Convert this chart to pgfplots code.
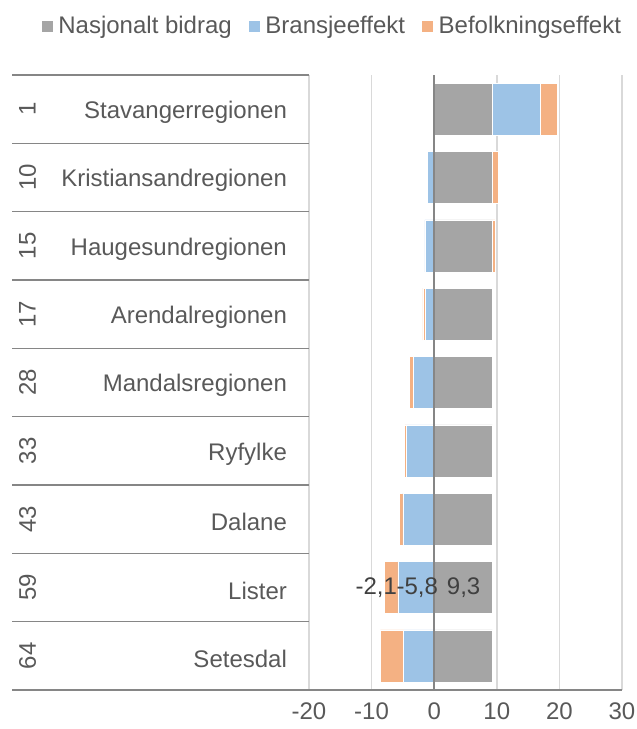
\documentclass[border=0pt]{standalone}
\usepackage{fontspec}
\setmainfont{Liberation Sans}
\usepackage{pgfplots}
\pgfplotsset{compat=1.18}
\definecolor{gbar}{HTML}{A5A5A5}
\definecolor{bbar}{HTML}{9DC3E6}
\definecolor{obar}{HTML}{F4B183}
\definecolor{gridc}{HTML}{D9D9D9}
\definecolor{axc}{HTML}{868686}
\definecolor{txt}{HTML}{595959}
\definecolor{lbl}{HTML}{404040}
\pgfplotsset{common/.style={
  scale only axis, width=156.5pt, height=307.5pt,
  xmin=-20, xmax=30, ymin=-0.5, ymax=8.5, y dir=reverse,
  xbar stacked, bar width=0.76,
}}
\begin{document}
\begin{tikzpicture}[font=\fontsize{12}{14}\selectfont, text=txt]
\useasboundingbox (-154.5pt,-19.5pt) rectangle (164pt,345pt);
% positive parts
\begin{axis}[common,
  axis x line*=bottom, axis y line*=left,
  x axis line style={axc, line width=0.8pt, -},
  y axis line style={draw=none},
  xtick={-20,-10,0,10,20,30}, xticklabels={-20,-10,0,10,20,30},
  ytick={0,1,2,3,4,5,6,7,8},
  yticklabels={Stavangerregionen,Kristiansandregionen,Haugesundregionen,Arendalregionen,Mandalsregionen,Ryfylke,Dalane,Lister,Setesdal},
  major tick length=0pt,
  xmajorgrids, grid style={gridc, line width=0.8pt},
  xticklabel style={yshift=-2.7pt, text=txt},
  yticklabel style={anchor=east, inner sep=0pt, xshift=-10.85pt, yshift=-1.5pt, text=txt},
  legend style={at={(0.078,1.0797)}, anchor=center, draw=none, fill=none,
    legend columns=3, text=txt, font=\fontsize{12}{14}\selectfont,
    nodes={inner sep=2.5pt},
    /tikz/every even column/.append style={column sep=5.5pt}},
  legend image code/.code={\fill[#1] (0pt,-3pt) rectangle (6pt,3pt);},
]
\addplot[fill=gbar, draw=white, line width=0.3pt] coordinates {
(9.3,0) (9.3,1) (9.3,2) (9.3,3) (9.3,4) (9.3,5) (9.3,6) (9.3,7) (9.3,8)};
\addplot[fill=bbar, draw=white, line width=0.3pt] coordinates {
(7.7,0) (0,1) (0,2) (0,3) (0,4) (0,5) (0,6) (0,7) (0,8)};
\addplot[fill=obar, draw=white, line width=0.3pt] coordinates {
(2.6,0) (0.9,1) (0.4,2) (0,3) (0,4) (0,5) (0,6) (0,7) (0,8)};
\legend{Nasjonalt bidrag,Bransjeeffekt,Befolkningseffekt}
\end{axis}
% negative parts
\begin{axis}[common, hide axis]
\addplot[fill=bbar, draw=white, line width=0.3pt] coordinates {
(0,0) (-1.1,1) (-1.5,2) (-1.4,3) (-3.3,4) (-4.4,5) (-5.0,6) (-5.8,7) (-4.9,8)};
\addplot[fill=obar, draw=white, line width=0.3pt] coordinates {
(0,0) (0,1) (0,2) (-0.4,3) (-0.7,4) (-0.3,5) (-0.6,6) (-2.1,7) (-3.7,8)};
\end{axis}
% overlay: zero line, category table, data labels
\begin{axis}[scale only axis, width=156.5pt, height=307.5pt,
  xmin=-20, xmax=30, ymin=-0.5, ymax=8.5, y dir=reverse, hide axis, clip=false]
\draw[axc, line width=0.9pt] (axis cs:0,-0.5) -- (axis cs:0,8.5);
\pgfplotsinvokeforeach{-0.5,0.5,1.5,2.5,3.5,4.5,5.5,6.5,7.5,8.5}{
  \draw[axc, line width=0.8pt] (axis cs:-20,#1) -- ++(-148.5pt,0pt);
}
\node[rotate=90, text=txt] at ([xshift=-140.75pt]axis cs:-20,0) {1};
\node[rotate=90, text=txt] at ([xshift=-140.75pt]axis cs:-20,1) {10};
\node[rotate=90, text=txt] at ([xshift=-140.75pt]axis cs:-20,2) {15};
\node[rotate=90, text=txt] at ([xshift=-140.75pt]axis cs:-20,3) {17};
\node[rotate=90, text=txt] at ([xshift=-140.75pt]axis cs:-20,4) {28};
\node[rotate=90, text=txt] at ([xshift=-140.75pt]axis cs:-20,5) {33};
\node[rotate=90, text=txt] at ([xshift=-140.75pt]axis cs:-20,6) {43};
\node[rotate=90, text=txt] at ([xshift=-140.75pt]axis cs:-20,7) {59};
\node[rotate=90, text=txt] at ([xshift=-140.75pt]axis cs:-20,8) {64};
\node[text=lbl] at (axis cs:4.7,7) {9,3};
\node[text=lbl] at (axis cs:-2.7,7) {-5,8};
\node[text=lbl] at (axis cs:-9.25,7) {-2,1};
\end{axis}
\end{tikzpicture}
\end{document}
